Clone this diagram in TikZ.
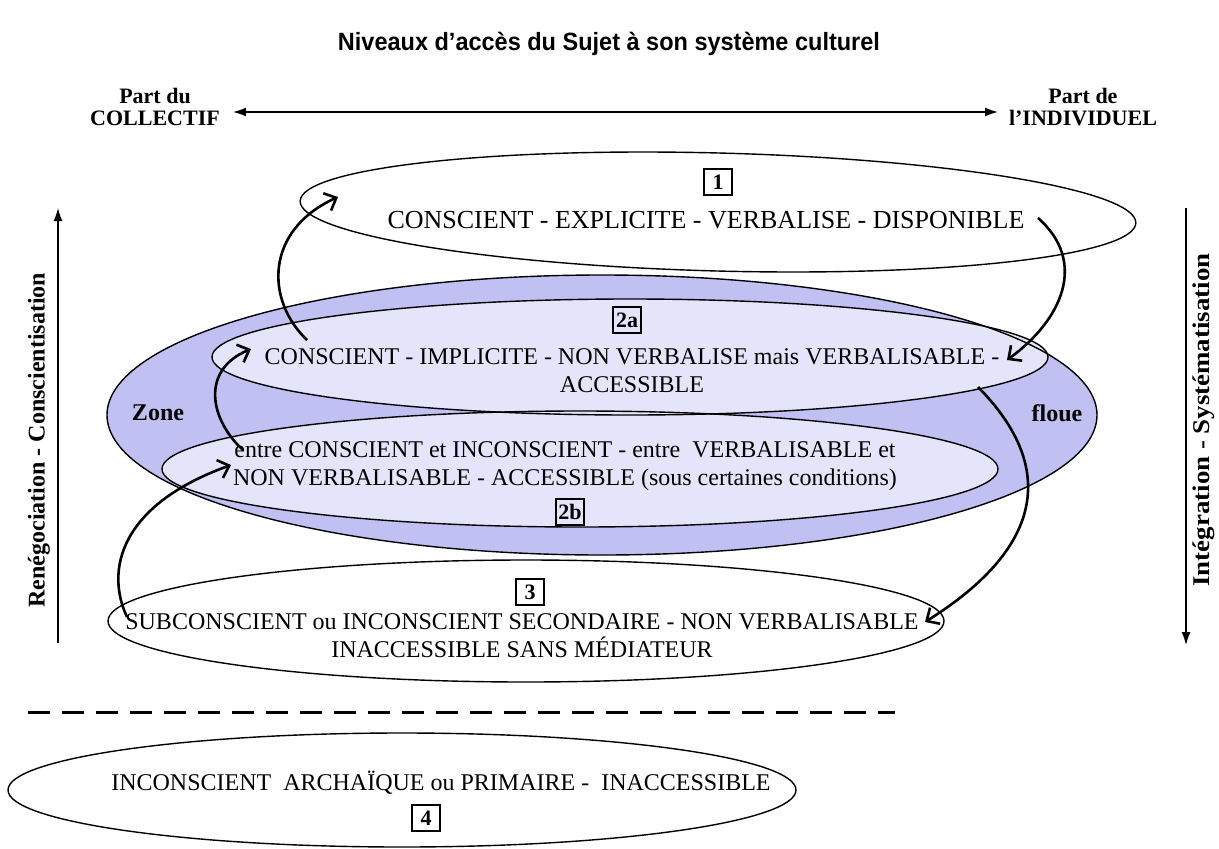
\documentclass[tikz,border=0pt]{standalone}
\usepackage{fontspec}
\setmainfont{Liberation Serif}
\newfontfamily\titlefont[FakeStretch=0.94]{Liberation Sans}
\newfontfamily\sidefont[FakeStretch=1.12]{Liberation Serif}
\usetikzlibrary{arrows.meta}
\definecolor{zoneblue}{RGB}{192,192,242}
\definecolor{innerblue}{RGB}{228,228,250}
\tikzset{
  lvl/.style={draw=black, line width=1.4pt},
  body/.style={font=\fontsize{24}{28}\selectfont, align=center, inner sep=0pt},
  lbl/.style={font=\bfseries\fontsize{22}{22}\selectfont, align=center, inner sep=0pt},
  sidelbl/.style={font=\bfseries\fontsize{24}{24}\selectfont, rotate=90, inner sep=0pt},
  numbox/.style={draw, line width=1.1pt, font=\bfseries\fontsize{22}{22}\selectfont, inner sep=2pt, minimum width=28pt, minimum height=26pt},
  curv/.style={line width=2.6pt, -{Straight Barb[length=10pt,width=19pt]}},
  axis/.style={line width=1.4pt, {Latex[length=13pt,width=9pt]}-{Latex[length=13pt,width=9pt]}},
  axisone/.style={line width=1.4pt, -{Latex[length=13pt,width=9pt]}},
  dashline/.style={line width=3pt, dash pattern=on 22pt off 12pt}
}
\begin{document}
\begin{tikzpicture}[x=1pt,y=-1pt]
\useasboundingbox (0,0) rectangle (1219,849);
\fill[white] (0,0) rectangle (1219,849);

% title
\node[font=\titlefont\bfseries\fontsize{25}{25}\selectfont] (title) at (609,44) {Niveaux d’accès du Sujet à son système culturel};

% top axis
\node[lbl] (coll) at (155,107) {Part du\\COLLECTIF};
\node[lbl] (indiv) at (1083,107) {Part de\\l’INDIVIDUEL};
\coordinate (axL) at (233,112);
\coordinate (axR) at (998,112);
\draw[axis] (axL) -- (axR);

% side axes
\coordinate (lb) at (58,643);
\coordinate (lt) at (58,208);
\draw[axisone] (lb) -- (lt);
\node[sidelbl] (reneg) at (39,440) {Renégociation - Conscientisation};
\coordinate (rt) at (1186,208);
\coordinate (rb) at (1186,645);
\draw[axisone] (rt) -- (rb);
\node[sidelbl, font=\sidefont\bfseries\fontsize{24}{24}\selectfont] (integ) at (1204,420) {Intégration - Systématisation};

% fills
\fill[zoneblue] (602,415) ellipse [x radius=495, y radius=140];
\fill[innerblue] (630,357) ellipse [x radius=418, y radius=58];
\fill[innerblue] (580,469) ellipse [x radius=418, y radius=58];

% outlines
\draw[lvl, rotate around={-1.5:(718,212)}] (718,212) ellipse [x radius=418, y radius=59];
\draw[lvl] (602,415) ellipse [x radius=495, y radius=140];
\draw[lvl] (630,357) ellipse [x radius=418, y radius=58];
\draw[lvl] (580,469) ellipse [x radius=418, y radius=58];
\draw[lvl] (526,621) ellipse [x radius=418, y radius=61];
\draw[lvl] (402,790) ellipse [x radius=394, y radius=57];

% level 1
\node[numbox] (n1) at (718,182) {1};
\node[body, font=\fontsize{26}{28}\selectfont] (t1) at (706,220) {CONSCIENT - EXPLICITE - VERBALISE - DISPONIBLE};

% level 2a
\node[numbox] (n2a) at (627,320) {2a};
\node[body] (t2a) at (632,371) {CONSCIENT - IMPLICITE - NON VERBALISE mais VERBALISABLE -\\ACCESSIBLE};

% level 2b
\node[body] (t2b) at (565,466) {entre CONSCIENT et INCONSCIENT - entre\ \ VERBALISABLE et\\NON VERBALISABLE - ACCESSIBLE (sous certaines conditions)};
\node[numbox] (n2b) at (570,512) {2b};

\node[lbl, font=\bfseries\fontsize{24}{24}\selectfont] (zone) at (158,413) {Zone};
\node[lbl, font=\bfseries\fontsize{24}{24}\selectfont] (floue) at (1057,413) {floue};

% level 3
\node[numbox] (n3) at (530,592) {3};
\node[body] (t3) at (522,636) {SUBCONSCIENT ou INCONSCIENT SECONDAIRE - NON VERBALISABLE\\INACCESSIBLE SANS MÉDIATEUR};

% dashed separator
\coordinate (dL) at (28,712);
\coordinate (dR) at (895,712);
\draw[dashline] (dL) -- (dR);

% level 4
\node[body] (t4) at (441,783) {INCONSCIENT\ \ ARCHAÏQUE ou PRIMAIRE -\ \ INACCESSIBLE};
\node[numbox] (n4) at (426,818) {4};

% curved arrows
\coordinate (aS) at (307,340);
\coordinate (aE) at (338,197);
\draw[curv] (aS) .. controls (265,300) and (265,230) .. (aE);

\coordinate (bS) at (1038,218);
\coordinate (bE) at (1007,360);
\draw[curv] (bS) .. controls (1088,262) and (1062,320) .. (bE);

\coordinate (cS) at (243,450);
\coordinate (cE) at (251,349);
\draw[curv] (cS) .. controls (210,420) and (200,370) .. (cE);

\coordinate (dS) at (127,617);
\coordinate (dE) at (231,465);
\draw[curv] (dS) .. controls (105,570) and (120,505) .. (dE);

\coordinate (eS) at (978,387);
\coordinate (eE) at (925,622);
\draw[curv] (eS) .. controls (1060,470) and (1040,550) .. (eE);
\end{tikzpicture}
\end{document}
